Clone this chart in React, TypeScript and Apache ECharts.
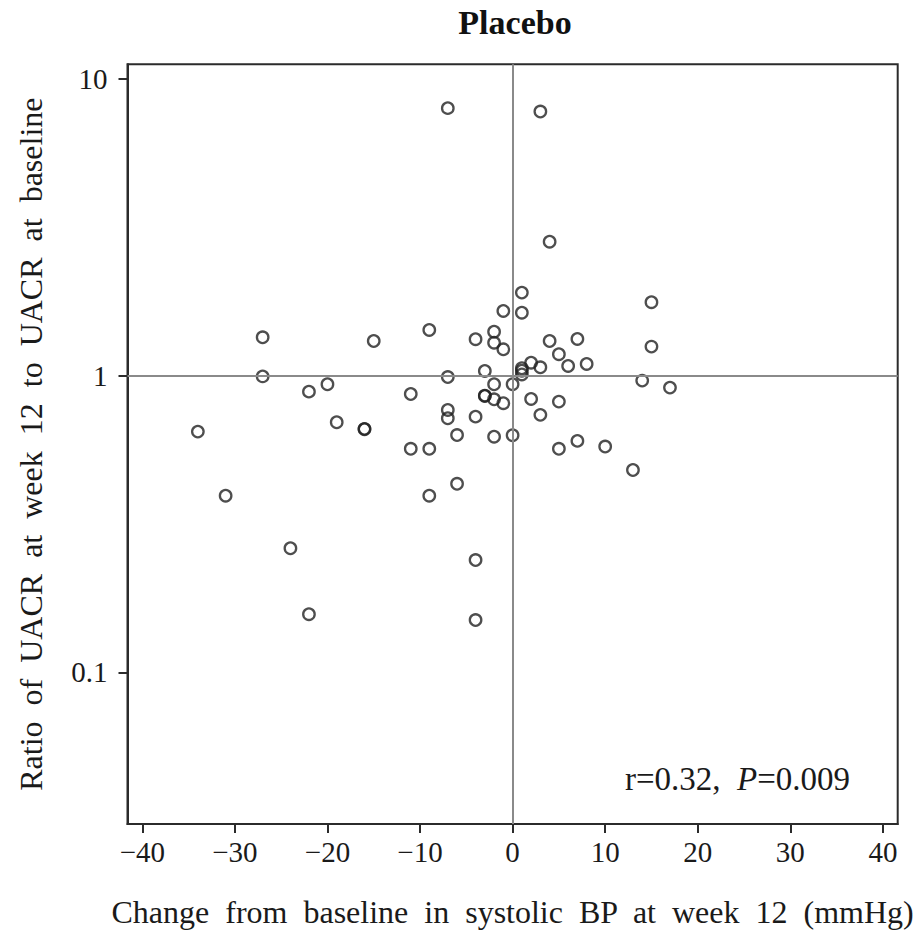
import React, { useEffect, useRef } from 'react';
import * as echarts from 'echarts';

// Change from baseline in systolic BP at week 12 (mmHg), one entry per patient
const bpChange = [
  -34, -31, -27, -27, -24, -22, -22, -20, -19, -16,
  -16, -15, -11, -11, -9, -9, -9, -7, -7, -7,
  -7, -6, -6, -4, -4, -4, -4, -3, -3, -3,
  -2, -2, -2, -2, -2, -1, -1, -1, 0, 0,
  1, 1, 1, 1, 1, 2, 2, 3, 3, 3,
  4, 4, 5, 5, 5, 6, 7, 7, 8, 10,
  13, 14, 15, 15, 17,
];

// Ratio of UACR at week 12 to UACR at baseline, same order as bpChange
const uacrRatio = [
  0.648, 0.394, 1.348, 0.995, 0.262, 0.884, 0.157, 0.936, 0.697, 0.66,
  0.662, 1.31, 0.868, 0.567, 1.427, 0.567, 0.394, 7.99, 0.99, 0.767,
  0.719, 0.631, 0.432, 1.328, 0.728, 0.239, 0.15, 1.038, 0.855, 0.857,
  1.408, 1.293, 0.936, 0.833, 0.623, 1.654, 1.228, 0.808, 0.936, 0.63,
  1.907, 1.632, 1.06, 1.04, 1.01, 1.107, 0.835, 7.78, 1.068, 0.738,
  2.833, 1.31, 1.182, 0.818, 0.567, 1.079, 1.331, 0.603, 1.096, 0.577,
  0.481, 0.963, 1.77, 1.254, 0.912,
];

const xTicks = [-40, -30, -20, -10, 0, 10, 20, 30, 40];
const yTicks = [0.1, 1, 10];

// Axis titles are set with wide word spacing
const wide = (s: string) => s.split(' ').join('  ');
const xTitle = wide('Change from baseline in systolic BP at week 12 (mmHg)');
const yTitle = wide('Ratio of UACR at week 12 to UACR at baseline');

const serif = '"Liberation Serif", "Times New Roman", serif';
const ink = '#1a1a1a';
const frame = '#2b2b2b';

export default function App() {
  const ref = useRef<HTMLDivElement>(null);

  useEffect(() => {
    if (!ref.current) return;
    const chart = echarts.init(ref.current, null, { renderer: 'svg' });
    const points = bpChange.map((x, i) => [x, uacrRatio[i]]);

    chart.setOption({
      animation: false,
      backgroundColor: '#fff',
      grid: {
        left: 127.5,
        right: 16.3,
        top: 64.3,
        bottom: 114,
        outerBoundsMode: 'none',
        containLabel: false,
        show: true,
        borderColor: frame,
        borderWidth: 2,
        backgroundColor: 'transparent',
      },
      xAxis: {
        type: 'value',
        min: -41.6,
        max: 41.6,
        name: xTitle,
        nameLocation: 'middle',
        nameGap: 72,
        nameTextStyle: { fontFamily: serif, fontSize: 32, color: ink },
        axisLine: { show: true, onZero: false, lineStyle: { color: frame, width: 2 } },
        axisTick: {
          show: true,
          length: 9,
          customValues: xTicks,
          lineStyle: { color: frame, width: 2 },
        },
        axisLabel: {
          customValues: xTicks,
          margin: 13,
          fontFamily: serif,
          fontSize: 29,
          color: ink,
          formatter: (v: number) => (v < 0 ? '\u2212' + Math.abs(v) : String(v)),
        },
        splitLine: { show: false },
      },
      yAxis: {
        type: 'log',
        logBase: 10,
        min: 0.03078,
        max: 11.23,
        name: yTitle,
        nameLocation: 'middle',
        nameGap: 81,
        nameTextStyle: { fontFamily: serif, fontSize: 32, color: ink },
        axisLine: { show: true, onZero: false, lineStyle: { color: frame, width: 2 } },
        axisTick: {
          show: true,
          length: 9,
          customValues: yTicks,
          lineStyle: { color: frame, width: 2 },
        },
        minorTick: { show: false },
        axisLabel: {
          customValues: yTicks,
          margin: 20,
          fontFamily: serif,
          fontSize: 29,
          color: ink,
          formatter: (v: number) => String(v),
        },
        splitLine: { show: false },
      },
      graphic: [
        {
          type: 'text',
          x: 515,
          y: 22,
          style: {
            text: 'Placebo',
            textAlign: 'center',
            textVerticalAlign: 'middle',
            font: `bold 34px ${serif}`,
            fill: '#111',
          },
        },
        {
          type: 'text',
          x: 625,
          y: 779,
          style: {
            text: '{a|r=0.32,  }{b|P}{a|=0.009}',
            textVerticalAlign: 'middle',
            rich: {
              a: { fontFamily: serif, fontSize: 33, fill: ink, color: ink },
              b: { fontFamily: serif, fontSize: 33, fontStyle: 'italic', fill: ink, color: ink },
            },
          },
        },
      ],
      series: [
        {
          type: 'scatter',
          data: points,
          symbol: 'circle',
          symbolSize: 11.5,
          itemStyle: { color: 'rgba(0,0,0,0)', borderColor: '#222', borderWidth: 2.3 },
          emphasis: { disabled: true },
          markLine: {
            silent: true,
            symbol: 'none',
            label: { show: false },
            lineStyle: { color: '#8a8a8a', width: 2, type: 'solid' },
            data: [{ xAxis: 0 }, { yAxis: 1 }],
          },
        },
      ],
    });

    return () => chart.dispose();
  }, []);

  return (
    <div
      ref={ref}
      style={{ position: 'fixed', left: 0, top: 0, width: 914, height: 938, background: '#fff' }}
    />
  );
}
